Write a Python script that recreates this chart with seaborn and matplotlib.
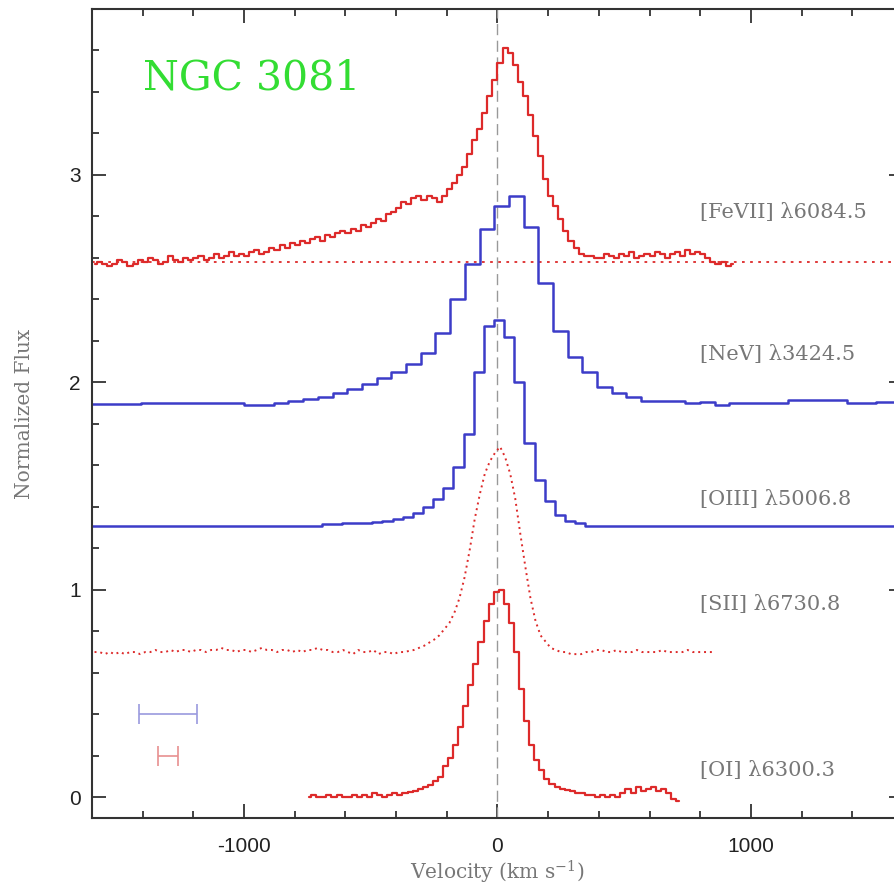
import numpy as np
import pandas as pd
import seaborn as sns
import matplotlib.pyplot as plt

#################
## Spectra (velocity in km/s, flux already offset)
#################
fevii_v0, fevii_dv = -1590, 20
fevii_flux = [
    2.57, 2.58, 2.57, 2.56, 2.57, 2.59, 2.58, 2.56, 2.57, 2.59,
    2.58, 2.60, 2.59, 2.57, 2.58, 2.61, 2.59, 2.58, 2.60, 2.59,
    2.60, 2.61, 2.59, 2.60, 2.62, 2.60, 2.61, 2.63, 2.61, 2.62,
    2.61, 2.63, 2.64, 2.62, 2.63, 2.65, 2.64, 2.66, 2.65, 2.67,
    2.66, 2.68, 2.67, 2.69, 2.70, 2.68, 2.71, 2.70, 2.72, 2.73,
    2.72, 2.74, 2.73, 2.76, 2.75, 2.77, 2.79, 2.78, 2.81, 2.82,
    2.84, 2.87, 2.86, 2.89, 2.90, 2.88, 2.90, 2.89, 2.87, 2.90,
    2.93, 2.96, 3.00, 3.04, 3.10, 3.17, 3.22, 3.30, 3.38, 3.46,
    3.54, 3.61, 3.59, 3.53, 3.45, 3.38, 3.29, 3.19, 3.09, 2.98,
    2.90, 2.85, 2.79, 2.73, 2.68, 2.65, 2.62, 2.61, 2.61, 2.60,
    2.60, 2.62, 2.61, 2.60, 2.62, 2.61, 2.63, 2.60, 2.61, 2.62,
    2.61, 2.63, 2.62, 2.60, 2.62, 2.63, 2.61, 2.64, 2.62, 2.63,
    2.62, 2.60, 2.58, 2.57, 2.58, 2.56, 2.57,
]
fevii_base = 2.58

nev_v0, nev_dv = -1608, 58
nev_flux = [
    1.895, 1.895, 1.895, 1.895, 1.90, 1.90, 1.90, 1.90, 1.90, 1.90,
    1.90, 1.89, 1.89, 1.90, 1.91, 1.92, 1.93, 1.95, 1.97, 1.99,
    2.02, 2.05, 2.09, 2.14, 2.24, 2.40, 2.57, 2.74, 2.85, 2.90,
    2.75, 2.48, 2.25, 2.12, 2.05, 1.98, 1.95, 1.93, 1.91, 1.91,
    1.91, 1.90, 1.905, 1.89, 1.90, 1.90, 1.90, 1.90, 1.915, 1.915,
    1.915, 1.915, 1.90, 1.90, 1.905, 1.905, 1.905,
]

oiii_v0, oiii_dv = -1634, 40
oiii_flux = [
    1.31, 1.31, 1.31, 1.31, 1.31, 1.31, 1.31, 1.31, 1.31, 1.31,
    1.31, 1.31, 1.31, 1.31, 1.31, 1.31, 1.31, 1.31, 1.31, 1.31,
    1.31, 1.31, 1.31, 1.31, 1.315, 1.315, 1.32, 1.32, 1.32, 1.325,
    1.33, 1.34, 1.35, 1.37, 1.40, 1.44, 1.49, 1.59, 1.75, 2.05,
    2.27, 2.30, 2.22, 2.00, 1.71, 1.53, 1.43, 1.36, 1.33, 1.32,
    1.31, 1.31, 1.31, 1.31, 1.31, 1.31, 1.31, 1.31, 1.31, 1.31,
    1.31, 1.31, 1.31, 1.31, 1.31, 1.31, 1.31, 1.31, 1.31, 1.31,
    1.31, 1.31, 1.31, 1.31, 1.31, 1.31, 1.31, 1.31, 1.31, 1.31,
    1.31, 1.31,
]

sii_v0, sii_dv = -1590, 20
sii_flux = [
    0.70, 0.70, 0.69, 0.70, 0.69, 0.70, 0.69, 0.70, 0.70, 0.69,
    0.70, 0.70, 0.71, 0.70, 0.70, 0.71, 0.70, 0.71, 0.71, 0.70,
    0.71, 0.71, 0.70, 0.71, 0.71, 0.72, 0.71, 0.71, 0.70, 0.71,
    0.71, 0.70, 0.71, 0.72, 0.71, 0.71, 0.70, 0.71, 0.71, 0.70,
    0.71, 0.70, 0.71, 0.71, 0.72, 0.71, 0.71, 0.70, 0.70, 0.71,
    0.70, 0.69, 0.71, 0.70, 0.70, 0.71, 0.69, 0.70, 0.70, 0.69,
    0.70, 0.70, 0.705, 0.71, 0.72, 0.73, 0.745, 0.76, 0.78, 0.81,
    0.84, 0.89, 0.96, 1.06, 1.19, 1.34, 1.46, 1.56, 1.62, 1.66,
    1.69, 1.64, 1.56, 1.44, 1.27, 1.11, 0.96, 0.85, 0.78, 0.75,
    0.72, 0.71, 0.70, 0.70, 0.69, 0.69, 0.69, 0.70, 0.70, 0.71,
    0.71, 0.70, 0.70, 0.71, 0.70, 0.70, 0.70, 0.71, 0.70, 0.70,
    0.70, 0.70, 0.71, 0.70, 0.70, 0.70, 0.70, 0.71, 0.70, 0.70,
    0.70, 0.70, 0.70,
]

oi_v0, oi_dv = -745, 20
oi_flux = [
    0.00, 0.01, 0.00, 0.00, 0.01, 0.00, 0.01, 0.00, 0.00, 0.01,
    0.00, 0.01, 0.00, 0.02, 0.01, 0.00, 0.01, 0.02, 0.01, 0.02,
    0.025, 0.03, 0.04, 0.05, 0.06, 0.08, 0.10, 0.15, 0.19, 0.25,
    0.34, 0.44, 0.54, 0.64, 0.75, 0.85, 0.93, 0.99, 1.00, 0.93,
    0.84, 0.70, 0.52, 0.37, 0.25, 0.18, 0.13, 0.09, 0.065, 0.05,
    0.04, 0.035, 0.03, 0.02, 0.02, 0.01, 0.01, 0.00, 0.01, 0.00,
    0.01, 0.00, 0.02, 0.04, 0.02, 0.05, 0.03, 0.04, 0.05, 0.03,
    0.04, 0.02, -0.01, -0.02,
]

line_labels = ["[FeVII] \u03bb6084.5", "[NeV] \u03bb3424.5", "[OIII] \u03bb5006.8",
               "[SII] \u03bb6730.8", "[OI] \u03bb6300.3"]
label_y = [2.82, 2.135, 1.435, 0.93, 0.13]

## instrumental resolution bars (centre, half width, level)
res_center = [-1300, -1300]
res_halfwidth = [113, 38]
res_level = [0.40, 0.20]
res_colors = ["#9a9ade", "#e89090"]

RED = "#dd2a2a"
BLUE = "#3c3cc8"


def to_df(v0, dv, flux):
    vel = v0 + dv * np.arange(len(flux))
    return pd.DataFrame({"velocity": vel, "flux": flux})


###################
## Plot
###################
sns.set_style("ticks")
plt.rcParams["font.family"] = ["Liberation Sans", "DejaVu Sans"]
plt.rcParams["mathtext.fontset"] = "dejavuserif"
plt.rcParams["axes.unicode_minus"] = False

fig = plt.figure(figsize=(8.95, 8.88), dpi=100)
ax = fig.add_axes([92 / 895, 70 / 888, 811 / 895, 809 / 888])

ax.axvline(0, color="#999999", lw=1.0, dashes=(8, 4), zorder=1)
ax.axhline(fevii_base, color=RED, lw=1.3, ls=(0, (1.5, 3)), zorder=1)

sns.lineplot(data=to_df(fevii_v0, fevii_dv, fevii_flux), x="velocity", y="flux",
             color=RED, lw=1.6, drawstyle="steps-mid", estimator=None, ax=ax)
sns.lineplot(data=to_df(nev_v0, nev_dv, nev_flux), x="velocity", y="flux",
             color=BLUE, lw=1.8, drawstyle="steps-mid", estimator=None, ax=ax)
sns.lineplot(data=to_df(oiii_v0, oiii_dv, oiii_flux), x="velocity", y="flux",
             color=BLUE, lw=1.8, drawstyle="steps-mid", estimator=None, ax=ax)
sns.lineplot(data=to_df(sii_v0, sii_dv, sii_flux), x="velocity", y="flux",
             color=RED, lw=1.4, linestyle=(0, (1, 2)), estimator=None, ax=ax)
sns.lineplot(data=to_df(oi_v0, oi_dv, oi_flux), x="velocity", y="flux",
             color=RED, lw=1.6, drawstyle="steps-mid", estimator=None, ax=ax)

for c, hw, lev, col in zip(res_center, res_halfwidth, res_level, res_colors):
    ax.errorbar(c, lev, xerr=hw, color=col, lw=1.2, capsize=7, capthick=1.2)

for lab, y in zip(line_labels, label_y):
    ax.text(800, y, lab, family="DejaVu Serif", fontsize=15, color="#777777",
            va="center", ha="left")

ax.text(-1400, 3.465, "NGC 3081", family="DejaVu Serif", fontsize=29.5,
        color="#33dd33", va="center", ha="left")

ax.set_xlim(-1600, 1600)
ax.set_ylim(-0.1, 3.8)
ax.set_xticks([-1000, 0, 1000])
ax.set_xticks(np.arange(-1600, 1601, 200), minor=True)
ax.set_yticks([0, 1, 2, 3])
ax.set_yticks(np.arange(-0.0, 3.81, 0.2), minor=True)
ax.tick_params(which="both", direction="in", top=True, right=True,
               width=1.3, color="#333333", labelsize=15, labelcolor="#222222")
ax.tick_params(which="major", length=10)
ax.tick_params(which="minor", length=5)
ax.tick_params(axis="x", pad=14)
ax.tick_params(axis="y", pad=8)
for s in ax.spines.values():
    s.set_linewidth(1.5)
    s.set_color("#333333")

ax.set_xlabel("Velocity (km s$^{-1}$)", family="DejaVu Serif", fontsize=14.5,
              color="#777777", labelpad=2)
ax.set_ylabel("Normalized Flux", family="DejaVu Serif", fontsize=14.5,
              color="#777777", labelpad=25)

plt.savefig("out.png", dpi=100)
plt.close()
